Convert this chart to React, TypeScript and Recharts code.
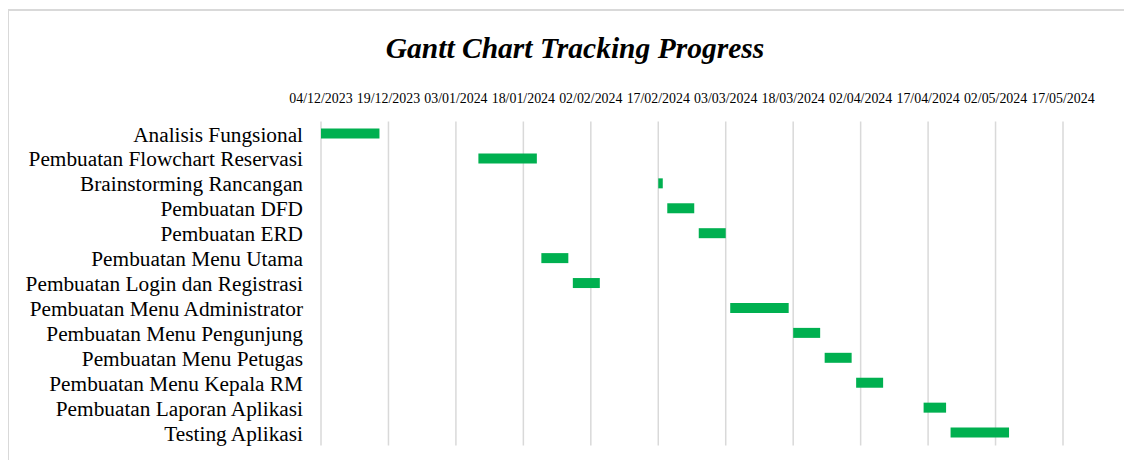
import React from "react";
import { BarChart, Bar, XAxis, YAxis, CartesianGrid } from "recharts";

const tasks = [
  "Analisis Fungsional",
  "Pembuatan Flowchart Reservasi",
  "Brainstorming Rancangan",
  "Pembuatan DFD",
  "Pembuatan ERD",
  "Pembuatan Menu Utama",
  "Pembuatan Login dan Registrasi",
  "Pembuatan Menu Administrator",
  "Pembuatan Menu Pengunjung",
  "Pembuatan Menu Petugas",
  "Pembuatan Menu Kepala RM",
  "Pembuatan Laporan Aplikasi",
  "Testing Aplikasi",
];

const startDates = [
  "04/12/2023",
  "08/01/2024",
  "17/02/2024",
  "19/02/2024",
  "26/02/2024",
  "22/01/2024",
  "29/01/2024",
  "04/03/2024",
  "18/03/2024",
  "25/03/2024",
  "01/04/2024",
  "16/04/2024",
  "22/04/2024",
];

const durations = [13, 13, 1, 6, 6, 6, 6, 13, 6, 6, 6, 5, 13];

const tickLabels = [
  "04/12/2023",
  "19/12/2023",
  "03/01/2024",
  "18/01/2024",
  "02/02/2024",
  "17/02/2024",
  "03/03/2024",
  "18/03/2024",
  "02/04/2024",
  "17/04/2024",
  "02/05/2024",
  "17/05/2024",
];

const toDay = (s: string) => {
  const [d, m, y] = s.split("/").map(Number);
  return Math.round(Date.UTC(y, m - 1, d) / 86400000);
};

const tickDays = tickLabels.map(toDay);
const axisStart = tickDays[0];
const ticks = tickDays.map((t) => t - axisStart);

const data = tasks.map((task, i) => ({
  task,
  offset: toDay(startDates[i]) - axisStart,
  duration: durations[i],
}));

const FONT = '"Liberation Serif", "Times New Roman", serif';

export default function App() {
  return (
    <div style={{ position: "relative", width: 1124, height: 452, fontFamily: FONT }}>
      <div
        style={{
          position: "absolute",
          left: -1,
          top: 1,
          width: 1126,
          height: 451,
          borderLeft: "2px solid #d9d9d9",
          borderTop: "2px solid #d9d9d9",
          boxSizing: "border-box",
        }}
      />
      <div
        style={{
          position: "absolute",
          left: 0,
          top: 23,
          width: 1134,
          textAlign: "center",
          fontSize: 29.5,
          lineHeight: "34px",
          fontWeight: "bold",
          fontStyle: "italic",
          color: "#000",
        }}
      >
        Gantt Chart Tracking Progress
      </div>
      <div style={{ position: "absolute", left: 0, top: 0 }}>
        <BarChart
          width={1124}
          height={452}
          data={data}
          layout="vertical"
          barSize={10}
          margin={{ top: 83.5, right: 69, bottom: 14.5, left: 0 }}
        >
          <CartesianGrid horizontal={false} stroke="#d9d9d9" strokeWidth={1.5} />
          <XAxis
            type="number"
            orientation="top"
            domain={[ticks[0], ticks[ticks.length - 1]]}
            ticks={ticks}
            interval={0}
            height={30}
            axisLine={false}
            tickLine={false}
            tickSize={0}
            tickMargin={19}
            tickFormatter={(v: number) => tickLabels[ticks.indexOf(v)] ?? ""}
            tick={{ fontSize: 13.9, fill: "#000", fontFamily: FONT }}
          />
          <YAxis
            type="category"
            dataKey="task"
            width={313}
            interval={0}
            axisLine={false}
            tickLine={false}
            tickSize={0}
            tickMargin={18}
            tick={{ fontSize: 21.3, fill: "#000", fontFamily: FONT }}
          />
          <Bar dataKey="offset" stackId="a" fill="transparent" isAnimationActive={false} />
          <Bar dataKey="duration" stackId="a" fill="#00B050" isAnimationActive={false} />
        </BarChart>
      </div>
    </div>
  );
}
